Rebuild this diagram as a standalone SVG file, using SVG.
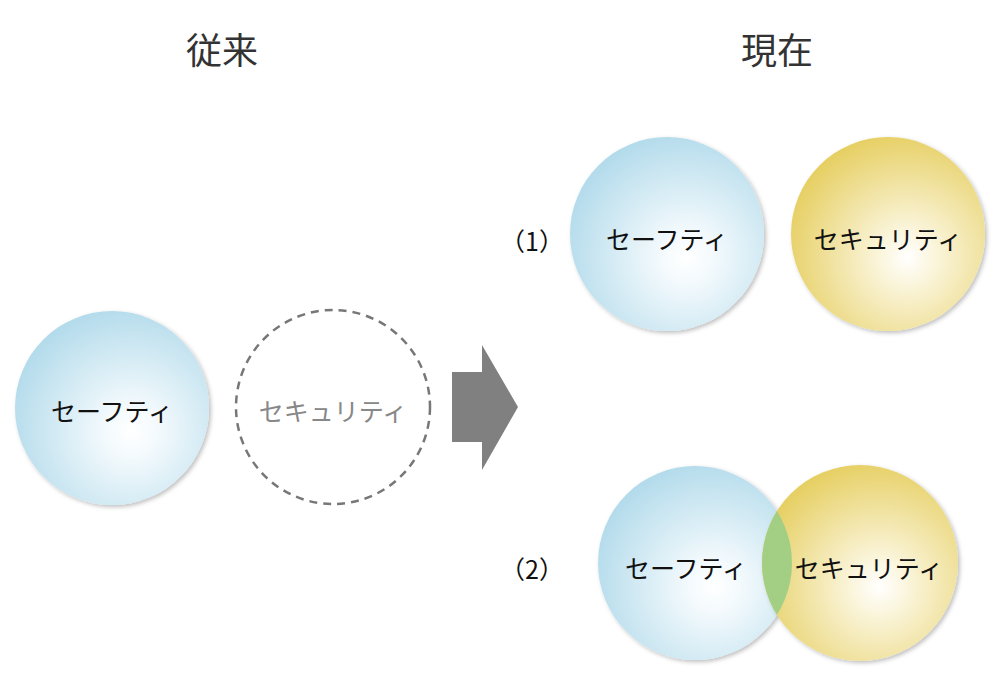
<svg xmlns="http://www.w3.org/2000/svg" width="1000" height="693" viewBox="0 0 1000 693">
<style>
text{font-family:"Noto Sans CJK JP","Noto Sans",sans-serif;text-anchor:middle;dominant-baseline:central}
.t{font-size:36px;fill:#333}
.l{font-size:25px;fill:#111}
</style>
<defs>
<radialGradient id="b" cx="0.6" cy="0.62" r="0.65"><stop offset="0" stop-color="#ffffff"/><stop offset="0.2" stop-color="#f4fafd"/><stop offset="1" stop-color="#b3dbeb"/></radialGradient>
<radialGradient id="y" cx="0.6" cy="0.62" r="0.65"><stop offset="0" stop-color="#ffffff"/><stop offset="0.2" stop-color="#fbf6df"/><stop offset="1" stop-color="#e6cf62"/></radialGradient>
<filter id="s" x="-10%" y="-10%" width="125%" height="125%"><feDropShadow dx="2" dy="2" stdDeviation="2" flood-color="#000" flood-opacity="0.25"/></filter>
<clipPath id="c"><circle cx="695" cy="563" r="97"/></clipPath>
</defs>
<text class="t" x="222" y="48">従来</text>
<text class="t" x="777" y="48">現在</text>
<g id="old-safety"><circle cx="112" cy="408" r="97" fill="url(#b)" filter="url(#s)"/><text class="l" x="112" y="410">セーフティ</text></g>
<g id="old-security"><circle cx="333" cy="407" r="97" fill="none" stroke="#777" stroke-width="2.5" stroke-dasharray="8,6"/><text class="l" x="333" y="410" style="fill:#888">セキュリティ</text></g>
<g id="connectors"><polygon points="452,372 482,372 482,345 518,407 482,470 482,442 452,442" fill="#808080"/></g>
<g id="label1"><text class="l" x="532" y="240">（1）</text></g>
<g id="new1-safety"><circle cx="667" cy="234" r="97" fill="url(#b)" filter="url(#s)"/><text class="l" x="667" y="238">セーフティ</text></g>
<g id="new1-security"><circle cx="888" cy="234" r="97" fill="url(#y)" filter="url(#s)"/><text class="l" x="888" y="238">セキュリティ</text></g>
<g id="label2"><text class="l" x="532" y="568">（2）</text></g>
<g id="new2-safety"><circle cx="695" cy="563" r="97" fill="url(#b)" filter="url(#s)"/></g>
<g id="new2-security"><circle cx="860" cy="563" r="98" fill="url(#y)" filter="url(#s)"/></g>
<g id="overlap"><circle cx="860" cy="563" r="98" fill="#a3cf85" clip-path="url(#c)"/></g>
<text class="l" x="686" y="567">セーフティ</text>
<text class="l" x="869" y="567">セキュリティ</text>
</svg>
